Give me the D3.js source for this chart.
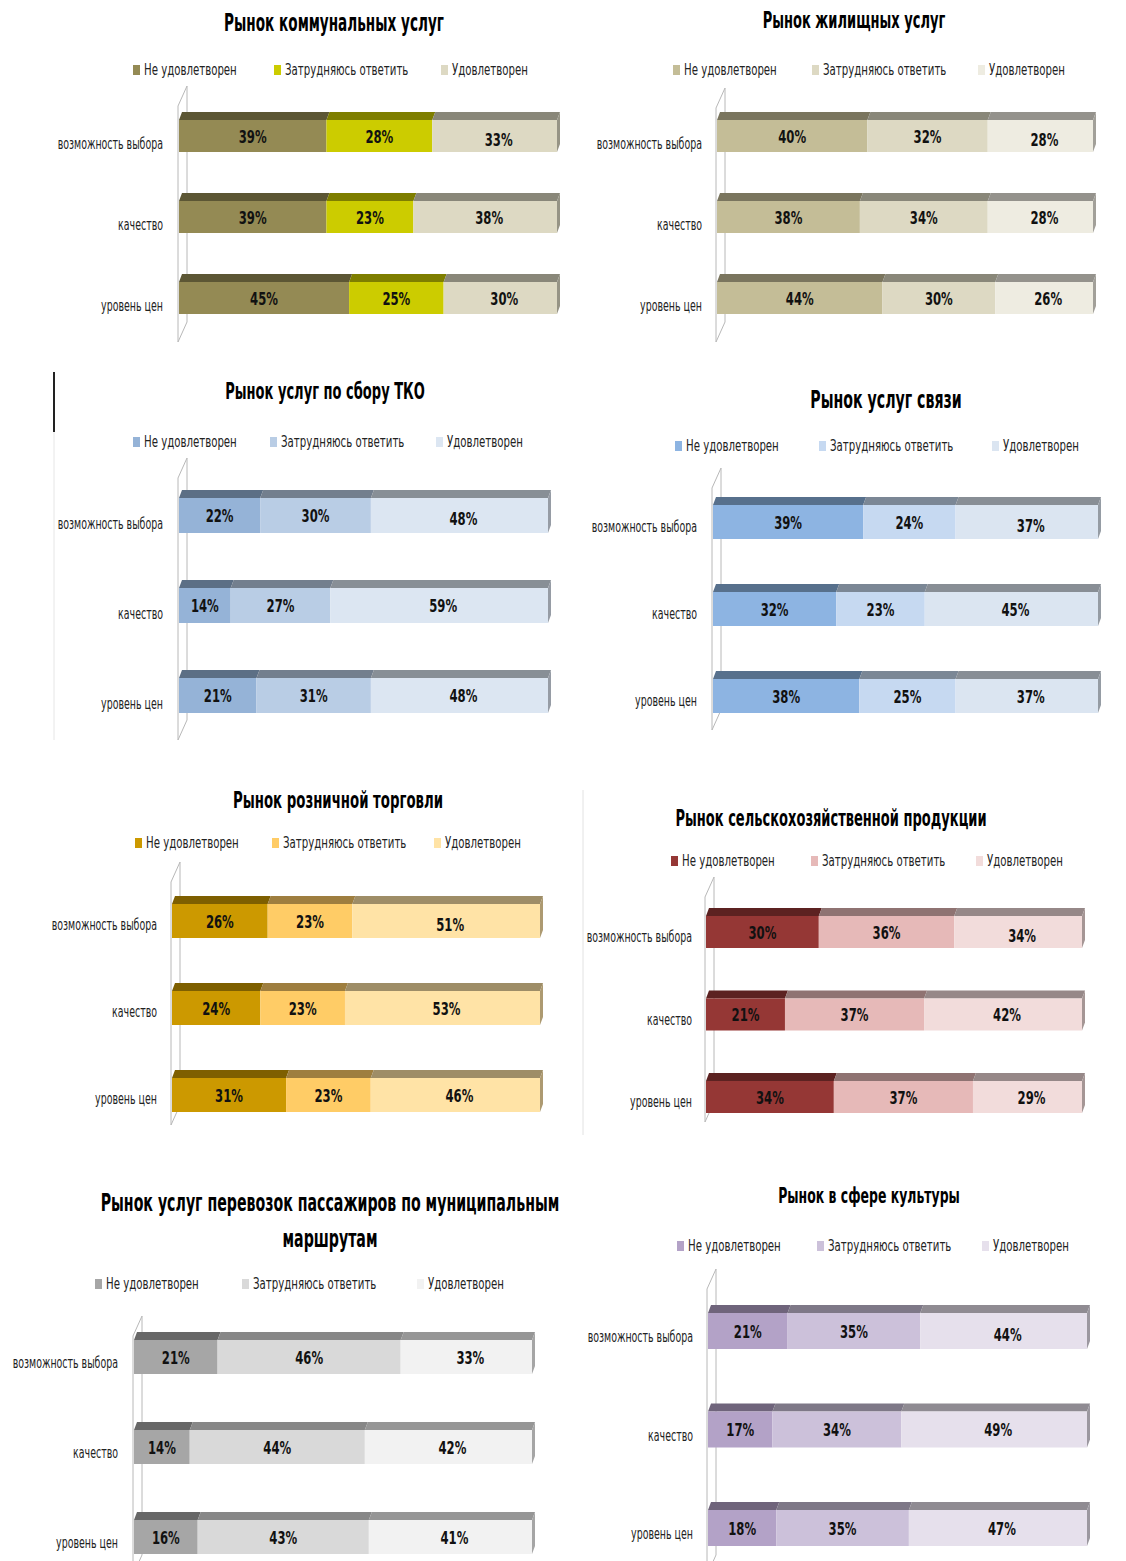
<!DOCTYPE html>
<html><head><meta charset="utf-8">
<script src="https://cdn.jsdelivr.net/npm/d3@7"></script>
<style>
body{margin:0;background:#fff}
svg{display:block}
text{font-family:"Liberation Sans Narrow","DejaVu Sans Condensed","Open Sans",sans-serif}
</style>
</head><body>
<svg id="c" width="1126" height="1561"></svg>
<script>
// ---------- DATA ----------
const categories = ["возможность выбора", "качество", "уровень цен"];
const seriesNames = ["Не удовлетворен", "Затрудняюсь ответить", "Удовлетворен"];
const titles = [
  ["Рынок коммунальных услуг"],
  ["Рынок жилищных услуг"],
  ["Рынок услуг по сбору ТКО"],
  ["Рынок услуг связи"],
  ["Рынок розничной торговли"],
  ["Рынок сельскохозяйственной продукции"],
  ["Рынок услуг перевозок пассажиров по муниципальным", "маршрутам"],
  ["Рынок в сфере культуры"]
];
// values per category: [Не удовлетворен, Затрудняюсь ответить, Удовлетворен]
const kommunal  = [[39, 28, 33], [39, 23, 38], [45, 25, 30]];
const zhilishch = [[40, 32, 28], [38, 34, 28], [44, 30, 26]];
const tko       = [[22, 30, 48], [14, 27, 59], [21, 31, 48]];
const svyaz     = [[39, 24, 37], [32, 23, 45], [38, 25, 37]];
const roznica   = [[26, 23, 51], [24, 23, 53], [31, 23, 46]];
const selhoz    = [[30, 36, 34], [21, 37, 42], [34, 37, 29]];
const perevozki = [[21, 46, 33], [14, 44, 42], [16, 43, 41]];
const kultura   = [[21, 35, 44], [17, 34, 49], [18, 35, 47]];
const panelValues = [kommunal, zhilishch, tko, svyaz, roznica, selhoz, perevozki, kultura];

// ---------- STYLE / LAYOUT ----------
const palettes = [
  ["#948a54", "#cccc00", "#ddd9c3"],
  ["#c4bd97", "#ddd9c3", "#eeece1"],
  ["#95b3d7", "#b9cde5", "#dce6f2"],
  ["#8db4e2", "#c6d9f1", "#dbe5f1"],
  ["#cc9900", "#ffcc66", "#ffe3a6"],
  ["#953735", "#e6b9b8", "#f2dcdb"],
  ["#a6a6a6", "#d9d9d9", "#f2f2f2"],
  ["#b3a2c7", "#ccc1da", "#e6e0ec"]
];
const layouts = [
  {tx:334, ty:[31], tfs:24, ly:70, lx:[133,274,441], wx:178, wTop:86,  wBot:342,  x1:557,  first:120,  last:282,  bh:32, lblX:163, lblDy:8},
  {tx:854, ty:[28], tfs:23, ly:70, lx:[673,812,978], wx:716, wTop:88,  wBot:342,  x1:1093, first:120,  last:282,  bh:32, lblX:702, lblDy:8},
  {tx:325, ty:[399], tfs:23, ly:442, lx:[133,270,436], wx:178, wTop:458, wBot:740, x1:548, first:498,  last:678,  bh:35, lblX:163, lblDy:8},
  {tx:886, ty:[408], tfs:25, ly:446, lx:[675,819,992], wx:712, wTop:468, wBot:730, x1:1098, first:505, last:679,  bh:34, lblX:697, lblDy:5},
  {tx:338, ty:[808], tfs:23.5, ly:843, lx:[135,272,434], wx:171, wTop:862, wBot:1125, x1:540, first:904, last:1078, bh:34, lblX:157, lblDy:4},
  {tx:831, ty:[826], tfs:23, ly:861, lx:[671,811,976], wx:705, wTop:877, wBot:1122, x1:1082, first:916, last:1081, bh:32, lblX:692, lblDy:5},
  {tx:330, ty:[1211,1247], tfs:25, ly:1284, lx:[95,242,417], wx:133, wTop:1316, wBot:1575, x1:532, first:1340, last:1520, bh:34, lblX:118, lblDy:6},
  {tx:869, ty:[1203], tfs:22, ly:1246, lx:[677,817,982], wx:707, wTop:1269, wBot:1575, x1:1087, first:1313, last:1510, bh:36, lblX:693, lblDy:6}
];
const DX = 3, DY = 8, WALL = 9;
const SX = {title: 0.63, legend: 0.755, cat: 0.7, data: 0.72};

const svg = d3.select("#c");

// condensed text helper (horizontal compression to mimic a narrow font)
function ctext(g, x, y, s, kind, attrs) {
  const t = g.append("text")
    .attr("transform", `translate(${x},${y}) scale(${SX[kind]},1)`)
    .text(s);
  Object.entries(attrs).forEach(([k, v]) => t.attr(k, v));
  return t;
}

// decorative separators seen in the reference
svg.append("line").attr("x1",583).attr("x2",583).attr("y1",790).attr("y2",1135).attr("stroke","#e2e2e2");
svg.append("line").attr("x1",54).attr("x2",54).attr("y1",372).attr("y2",432).attr("stroke","#222").attr("stroke-width",2);
svg.append("line").attr("x1",54).attr("x2",54).attr("y1",432).attr("y2",740).attr("stroke","#e6e6e6");

function shade(c, k){ const r = d3.rgb(c); return d3.rgb(r.r*k, r.g*k, r.b*k).formatHex(); }

panelValues.forEach((vals, pi) => {
  const L = layouts[pi];
  const colors = palettes[pi];
  const g = svg.append("g");

  // title
  titles[pi].forEach((t, i) => {
    ctext(g, L.tx, L.ty[i], t, "title", {"text-anchor":"middle", "font-size":L.tfs, "font-weight":"bold", "fill":"#000"});
  });

  // legend
  seriesNames.forEach((s, i) => {
    g.append("rect").attr("x", L.lx[i]).attr("y", L.ly - 5).attr("width", 7).attr("height", 10).attr("fill", colors[i]);
    ctext(g, L.lx[i] + 11, L.ly + 5, s, "legend", {"font-size":15, "fill":"#222"});
  });

  // scales
  const x = d3.scaleLinear().domain([0, 100]).range([L.wx + 1, L.x1]);
  const y = d3.scalePoint().domain(categories).range([L.first, L.last]);

  // 3D wall (axis)
  const wx = L.wx;
  g.append("path")
    .attr("d", `M${wx},${L.wBot} L${wx},${L.wTop + 20} L${wx + WALL},${L.wTop} L${wx + WALL},${L.wBot - 20} L${wx},${L.wBot}`)
    .attr("fill","none").attr("stroke","#b8b8b8").attr("stroke-width",1);

  // stacked bars
  categories.forEach((cat, ci) => {
    const row = vals[ci];
    const y0 = y(cat);
    let acc = 0;
    row.forEach((v, si) => {
      const xa = x(acc), xb = x(acc + v);
      acc += v;
      // top face
      g.append("path")
        .attr("d", `M${xa},${y0} L${xa + DX},${y0 - DY} L${xb + DX},${y0 - DY} L${xb},${y0} Z`)
        .attr("fill", shade(colors[si], 0.62));
      // front face
      g.append("rect").attr("x", xa).attr("y", y0).attr("width", xb - xa).attr("height", L.bh)
        .attr("fill", colors[si]);
      // side face at the end of the bar
      if (si === row.length - 1) {
        g.append("path")
          .attr("d", `M${xb},${y0} L${xb + DX},${y0 - DY} L${xb + DX},${y0 + L.bh - DY} L${xb},${y0 + L.bh} Z`)
          .attr("fill", shade(colors[si], 0.68));
      }
      // data label
      const shift = (ci === 0 && si === 2 && pi !== 6) ? 3 : 0;
      ctext(g, (xa + xb) / 2 + (si === 2 ? 4 : 0), y0 + L.bh / 2 + 6.5 + shift, v + "%", "data",
        {"text-anchor":"middle", "font-size":18, "font-weight":"bold", "fill":"#111"});
    });
    // category label
    ctext(g, L.lblX, y0 + L.bh / 2 + L.lblDy + 5, cat, "cat", {"text-anchor":"end", "font-size":15, "fill":"#222"});
  });
});
</script>
</body></html>
